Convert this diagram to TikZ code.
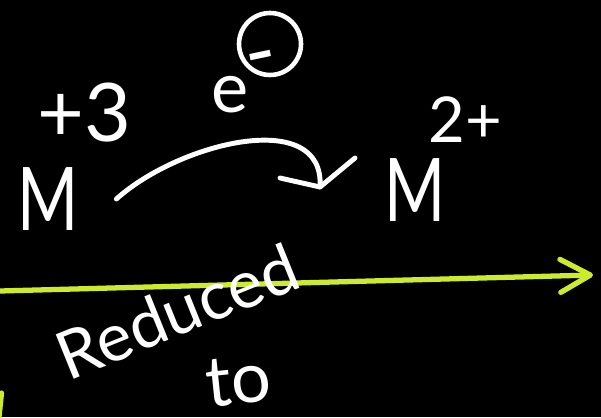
\documentclass[tikz,border=0pt]{standalone}
\usepackage{fontspec}
\setmainfont{Lato}
\usepackage{tikz}
\usetikzlibrary{arrows.meta,positioning}
\definecolor{chalkyellow}{RGB}{205,235,45}

\begin{document}
\begin{tikzpicture}[
  ionlbl/.style={text=white, inner sep=0pt, font=\fontsize{50}{50}\selectfont, xscale=0.75},
  chglbl/.style={text=white, inner sep=0pt, font=\fontsize{46}{46}\selectfont},
  smallchg/.style={text=white, inner sep=0pt, font=\fontsize{36}{36}\selectfont},
  elbl/.style={text=white, inner sep=0pt, font=\fontsize{40}{40}\selectfont},
  ringlbl/.style={draw=white, line width=2.6pt, circle, minimum size=1.24cm, inner sep=0pt},
  minuslbl/.style={text=white, inner sep=0pt, font=\fontsize{48}{48}\selectfont},
  wordlbl/.style={text=white, inner sep=0pt, font=\fontsize{38}{38}\selectfont},
  chalk/.style={draw=white, line width=2.8pt, line cap=round, line join=round},
  yline/.style={draw=chalkyellow, line width=3pt, line cap=round}
]
\useasboundingbox (0,0) rectangle (12.02,8.34);
\fill[black] (0,0) rectangle (12.02,8.34);

% ions and charges
\node[ionlbl] (mL) at (0.96,4.36) {M};
\node[ionlbl] (mR) at (8.30,4.54) {M};
\node[chglbl, above=0.5cm of mL, xshift=0.72cm] (chgL) {+3};
\node[smallchg, above=0.3cm of mR, xshift=1.0cm] (chgR) {2+};

% electron
\node[elbl] (eLbl) at (4.60,6.44) {e};
\node[ringlbl] (eCirc) at (5.40,7.46) {};
\node[minuslbl, anchor=mid, rotate=12] (eMinus) at ([shift={(-0.1,-0.64)}]eCirc.center) {-};

% curved arrow with hand drawn head
\coordinate (tip) at (6.40,4.60);
\draw[chalk] ([xshift=0.75cm]mL.east) .. controls (3.6,5.5) and (6.5,6.2) .. (tip);
\draw[chalk] ([shift={(-0.8,0.18)}]tip) -- (tip) -- ([shift={(0.7,0.58)}]tip);

% reaction line
\coordinate (rxStart) at (0,2.52);
\coordinate (rxEnd) at (11.86,2.84);
\draw[yline, -{Straight Barb[length=6mm, width=6.6mm, round]}] (rxStart) -- (rxEnd);
\draw[yline] (0.03,0.48) -- (-0.02,0.0);

\node[wordlbl, rotate=22] (redLbl) at (3.54,2.12) {Reduced};
\node[wordlbl, rotate=6, font=\fontsize{40}{40}\selectfont] (toLbl) at (4.76,0.72) {to};
\end{tikzpicture}
\end{document}
